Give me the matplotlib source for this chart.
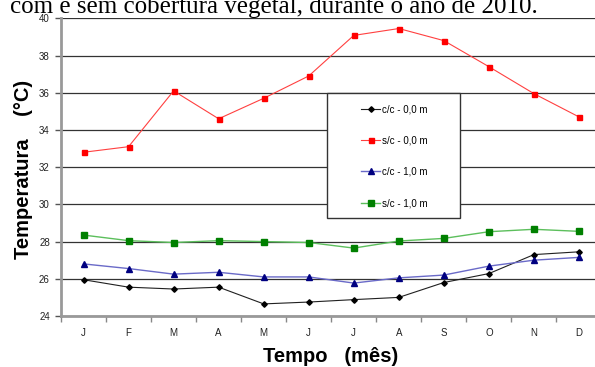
import matplotlib
matplotlib.use("Agg")
import matplotlib.pyplot as plt
from matplotlib.patches import Rectangle

# ==========================================
# DATA
# ==========================================
meses = ["J", "F", "M", "A", "M", "J", "J", "A", "S", "O", "N", "D"]

cc_00 = [25.95, 25.55, 25.45, 25.55, 24.65, 24.75, 24.88, 25.0, 25.8, 26.28, 27.3, 27.45]
sc_00 = [32.8, 33.1, 36.1, 34.6, 35.7, 36.9, 39.08, 39.45, 38.8, 37.4, 35.95, 34.7]
cc_10 = [26.8, 26.55, 26.25, 26.35, 26.1, 26.1, 25.77, 26.05, 26.2, 26.68, 27.0, 27.15]
sc_10 = [28.35, 28.05, 27.95, 28.05, 28.0, 27.95, 27.65, 28.03, 28.17, 28.53, 28.66, 28.55]

series_labels = ["c/c - 0,0 m", "s/c - 0,0 m", "c/c - 1,0 m", "s/c - 1,0 m"]
y_ticks = [24, 26, 28, 30, 32, 34, 36, 38, 40]

W, H = 595, 367
fig = plt.figure(figsize=(W / 100, H / 100), dpi=100)

def fx(px):
    return px / W

def fy(py):
    return 1 - py / H

# axes box in pixel coords: left 61, right ~601 (cut by image), top 18, bottom 316
ax = fig.add_axes([fx(61), fy(316), (601.5 - 61) / W, (316 - 18.3) / H])

x = list(range(len(meses)))

ax.plot(x, cc_00, color="#202020", lw=0.8, marker="D", ms=2.8, mfc="black", mec="black",
        label=series_labels[0], zorder=5)
ax.plot(x, sc_00, color="#ff4040", lw=0.8, marker="s", ms=3.6, mfc="red", mec="red",
        label=series_labels[1], zorder=5)
ax.plot(x, cc_10, color="#6a6ac8", lw=1.0, marker="^", ms=4.2, mfc="#000080", mec="#000080",
        label=series_labels[2], zorder=5)
ax.plot(x, sc_10, color="#5cbf5c", lw=1.0, marker="s", ms=5.0, mfc="#008000", mec="#008000",
        label=series_labels[3], zorder=5)

ax.set_xlim(-0.5, 11.5)
ax.set_ylim(24, 40)
ax.set_yticks(y_ticks)
ax.set_yticklabels([str(v) for v in y_ticks])
ax.set_xticks(x)
ax.set_xticklabels(meses)
ax.set_xticks([i + 0.5 for i in range(-1, 12)], minor=True)
ax.tick_params(axis="x", which="major", length=0, pad=9, labelsize=7, labelcolor="#222222")
ax.tick_params(axis="x", which="minor", length=4, width=1, color="#888888", direction="out")
ax.tick_params(axis="y", length=4, width=1, color="#555555", direction="out", pad=4,
               labelsize=7, labelcolor="#222222")
for t in ax.get_xticklabels() + ax.get_yticklabels():
    t.set_family("Liberation Sans")

ax.grid(axis="y", color="#333333", lw=0.9, zorder=0)
for side in ["top", "right"]:
    ax.spines[side].set_visible(False)
for side in ["left", "bottom"]:
    ax.spines[side].set_color("#999999")
    ax.spines[side].set_linewidth(2)

fig.text(fx(24), fy(169), "Temperatura    (°C)", fontsize=14.5, fontweight="bold",
         family="Liberation Sans", rotation=90, ha="center", va="center")
fig.text(fx(331), fy(356), "Tempo   (mês)", fontsize=14.5, fontweight="bold",
         family="Liberation Sans", ha="center", va="center")

# legend frame drawn by hand: x 327..460, y 93..218
fig.patches.append(Rectangle((fx(327), fy(218)), (460 - 327) / W, (218 - 93) / H,
                             transform=fig.transFigure, facecolor="white",
                             edgecolor="#333333", lw=1.0, zorder=10))
leg = fig.legend(*ax.get_legend_handles_labels(), loc="upper left",
                 bbox_to_anchor=(fx(361), fy(104)), frameon=False,
                 handlelength=2.0, handletextpad=0.15, labelspacing=2.2,
                 borderpad=0, borderaxespad=0,
                 prop={"family": "Liberation Sans", "size": 7})
leg.set_zorder(11)

# caption line cut off at the top of the picture
fig.text(fx(10), fy(12.5), "com e sem cobertura vegetal, durante o ano de 2010.",
         fontsize=18, family="Liberation Serif", ha="left", va="baseline")

fig.savefig("out.png", dpi=100)
